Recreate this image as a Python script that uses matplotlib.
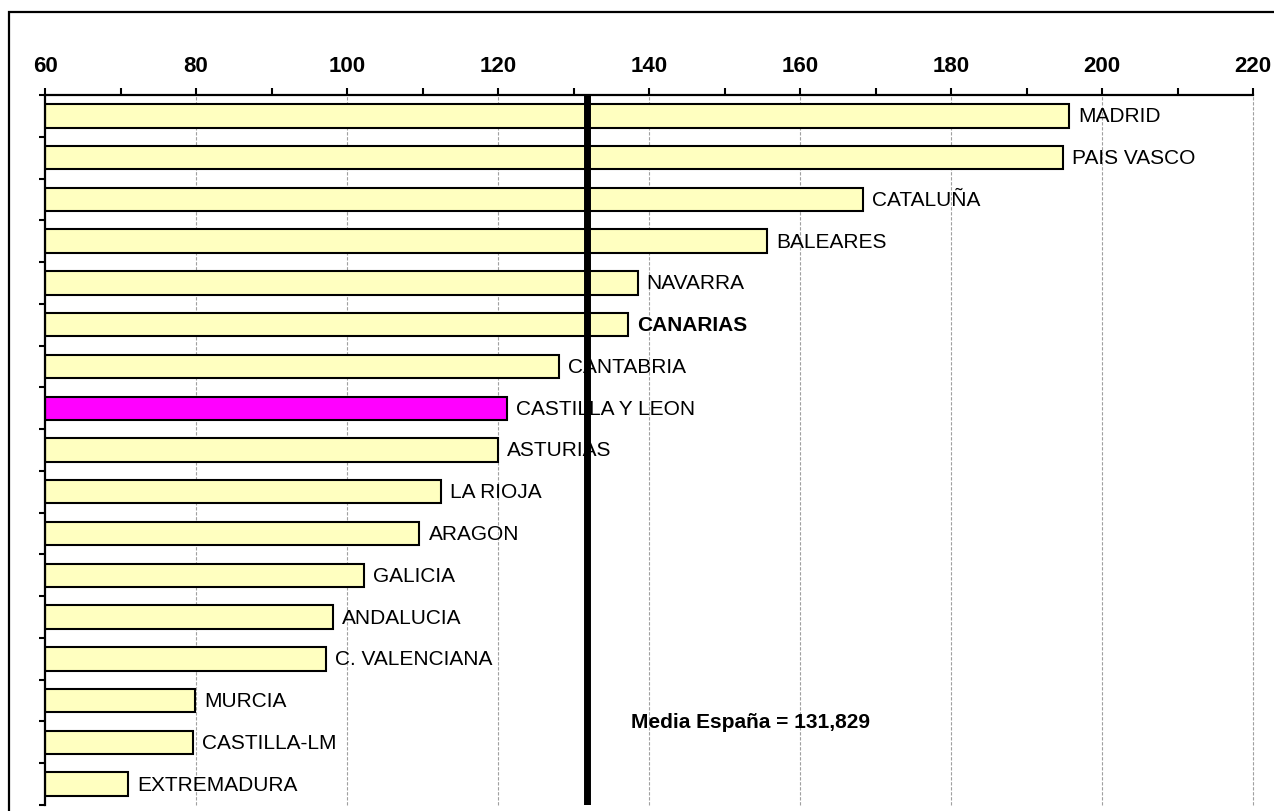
import matplotlib
matplotlib.use("Agg")
import matplotlib.pyplot as plt
from matplotlib.patches import Rectangle
from matplotlib.ticker import MultipleLocator, FixedLocator

plt.rcParams['font.family'] = ['Liberation Sans', 'DejaVu Sans']

regions = ['MADRID', 'PAIS VASCO', 'CATALUÑA', 'BALEARES', 'NAVARRA', 'CANARIAS',
           'CANTABRIA', 'CASTILLA Y LEON', 'ASTURIAS', 'LA RIOJA', 'ARAGON', 'GALICIA',
           'ANDALUCIA', 'C. VALENCIANA', 'MURCIA', 'CASTILLA-LM', 'EXTREMADURA']
values = [195.6, 194.8, 168.4, 155.6, 138.5, 137.2, 128.1, 121.2, 120.0, 112.4,
          109.6, 102.3, 98.1, 97.2, 79.9, 79.6, 71.0]
highlight = 'CASTILLA Y LEON'
bold_label = 'CANARIAS'
media = 131.829
media_text = 'Media España = 131,829'
xticks = [60, 80, 100, 120, 140, 160, 180, 200, 220]

fig = plt.figure(figsize=(12.74, 8.12), dpi=100)
ax = fig.add_axes([45 / 1274, 1 - 806 / 812, (1253 - 45) / 1274, (806 - 96) / 812])

# outer frame (cut off at right and bottom)
fig.patches.append(Rectangle((9 / 1274, -0.1), 1.2, 1.1 - 13 / 812, transform=fig.transFigure,
                             fill=False, edgecolor='black', linewidth=1.6))

ypos = list(range(len(regions)))
colors = ['#FF00FF' if r == highlight else '#FFFFC0' for r in regions]
ax.barh(ypos, [v - 60 for v in values], left=60, height=0.56, color=colors,
        edgecolor='black', linewidth=1.5, zorder=2)

for y, r, v in zip(ypos, regions, values):
    ax.annotate(r, (v, y), xytext=(6.5, 0), textcoords='offset points',
                ha='left', va='center', fontsize=15,
                fontweight='bold' if r == bold_label else 'normal', zorder=4)

for v in xticks[1:]:
    ax.axvline(v, color='#A0A0A0', linestyle=(0, (3, 1.5)), linewidth=0.8,
               zorder=0, clip_on=False)

ax.axvline(media, color='black', linewidth=5, zorder=3, solid_capstyle='butt')
ax.text(137.6, 14.5, media_text, ha='left', va='center', fontsize=15,
        fontweight='bold', zorder=4)

ax.set_xlim(60, 220)
ax.set_ylim(len(regions) - 0.5, -0.5)

ax.xaxis.set_ticks_position('top')
ax.xaxis.set_major_locator(FixedLocator(xticks))
ax.xaxis.set_minor_locator(MultipleLocator(10))
ax.tick_params(axis='x', which='both', direction='out', length=5, width=1.5,
               labelsize=16, pad=9)
for lab in ax.get_xticklabels():
    lab.set_fontweight('bold')

ax.yaxis.set_major_locator(FixedLocator([]))
ax.yaxis.set_minor_locator(FixedLocator([i - 0.5 for i in range(len(regions) + 1)]))
ax.tick_params(axis='y', which='minor', direction='out', length=4.5, width=1.5)

for side in ['right', 'bottom']:
    ax.spines[side].set_visible(False)
for side in ['top', 'left']:
    ax.spines[side].set_linewidth(1.6)

fig.savefig('out.png', dpi=100)
